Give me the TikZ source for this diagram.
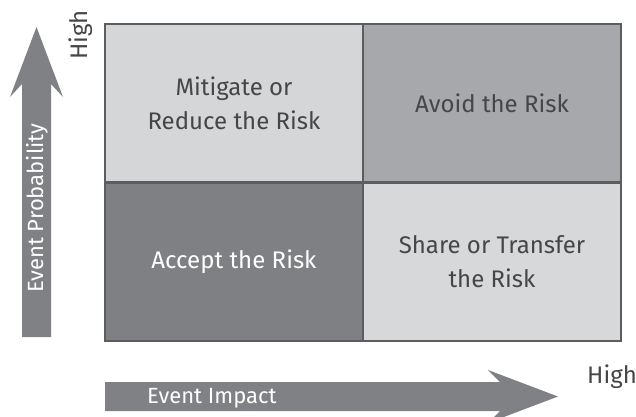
\documentclass[tikz,border=0pt]{standalone}
\usepackage{fontspec}
\setmainfont{Fira Sans}
\usetikzlibrary{positioning}

\definecolor{paneA}{RGB}{213,214,216}
\definecolor{paneB}{RGB}{167,168,171}
\definecolor{paneC}{RGB}{127,128,131}
\definecolor{paneD}{RGB}{215,216,218}
\definecolor{arrowgray}{RGB}{128,129,132}
\definecolor{gridline}{RGB}{92,93,95}
\definecolor{darktext}{RGB}{70,70,73}

\begin{document}
\begin{tikzpicture}[x=1pt, y=-1pt,
    pane/.style={draw=gridline, line width=1.5pt},
    panetext/.style={align=center, font=\fontsize{24}{34}\selectfont},
    axistext/.style={inner sep=0pt, font=\fontsize{22}{26}\selectfont},
    hightext/.style={inner sep=0pt, text=darktext, font=\fontsize{24}{28}\selectfont}]
        \clip (0,0) rectangle (636,416);

        % Quadrants
        \foreach \name/\col/\tcol/\xa/\ya/\txt in {mitigate/paneA/darktext/105/24/{Mitigate or\\Reduce the Risk},
            avoid/paneB/darktext/363/24/{Avoid the Risk},
            accept/paneC/white/105/183/{Accept the Risk},
            share/paneD/darktext/363/183/{Share or Transfer\\the Risk}} {
          \filldraw[pane, fill=\col] (\xa,\ya) rectangle ++(258,158);
          \node[panetext, text=\tcol] (\name) at (\xa+129,\ya+79) {\txt};
        }

        % Probability axis
        \fill[arrowgray] (36.5,27) -- (63,97) -- (51,84) -- (51,337) -- (22,337) -- (22,84) -- (10,97) -- cycle;
        \node[axistext, rotate=90, anchor=base west, text=white] (probability) at (43,293) {Event Probability};
        \node[hightext, rotate=90, anchor=base west] (probhigh) at (87,60) {High};

        % Impact axis
        \fill[arrowgray] (558,396.5) -- (488,423) -- (500,411) -- (105,411) -- (105,382) -- (500,382) -- (488,370) -- cycle;
        \node[axistext, anchor=base west, text=white] (impact) at (147,403) {Event Impact};
        \node[hightext, anchor=base west] (impacthigh) at (587,383) {High};
      \end{tikzpicture}
\end{document}
